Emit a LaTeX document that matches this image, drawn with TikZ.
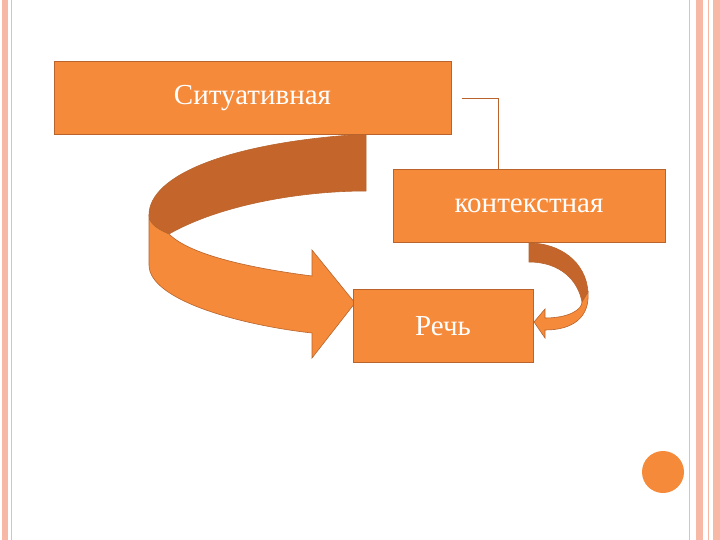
\documentclass[tikz,border=0pt]{standalone}
\usepackage{fontspec}
\setmainfont{Liberation Serif}
\definecolor{orf}{HTML}{F58A3A}
\definecolor{ord}{HTML}{C4662C}
\definecolor{orb}{HTML}{B8642C}
\definecolor{pinkb}{HTML}{F7B9A6}
\begin{document}
\begin{tikzpicture}[x=1pt,y=-1pt,
  box/.style={draw=orb,line width=1pt,fill=orf,text=white,inner sep=0pt,font=\fontsize{29}{30}\selectfont},
  rib/.style={draw=orb,line width=0.6pt}]
\useasboundingbox (0,0) rectangle (720,540);
\fill[white] (0,0) rectangle (720,540);
% borders
\fill[pinkb] (2,0) rectangle (8,540);
\draw[pinkb,line width=0.8pt] (11,0) -- (11,540);
\draw[pinkb,line width=0.8pt] (689,0) -- (689,540);
\fill[pinkb] (696,0) rectangle (703,540);
\draw[pinkb,line width=0.8pt] (708,0) -- (708,540);
\fill[pinkb] (713,0) rectangle (720,540);
% big arrow
\fill[ord,rib] (366,134) .. controls (230,142) and (149,175) .. (149,215) .. controls (149,225) and (160,230) .. (169,234) .. controls (220,205) and (300,191) .. (366,191) -- cycle;
\fill[orf,rib] (149,215) -- (149,265) .. controls (149,300) and (240,325) .. (312,333) -- (312,358) -- (355,303) -- (312,250) -- (312,276) .. controls (250,268) and (190,255) .. (169,234) .. controls (160,230) and (149,225) .. (149,215) -- cycle;
% small arrow
\fill[ord,rib] (529,243) -- (529,262) .. controls (560,262) and (578,280) .. (582,302) -- (588,292) .. controls (586,262) and (560,243) .. (529,243) -- cycle;
\fill[orf,rib] (588,292) .. controls (590,318) and (572,330) .. (545,330) -- (545,338) -- (534,322) -- (545,309) -- (545,318) .. controls (568,318) and (582,310) .. (582,302) -- cycle;
% boxes
\node[box,minimum width=397pt,minimum height=73pt] (sit) at (252.5,98) {Ситуативная};
\node[box,minimum width=272pt,minimum height=73pt] (kon) at (529,206) {\raisebox{-4pt}{контекстная}};
\node[box,minimum width=180pt,minimum height=73pt] (rech) at (443,326) {Речь};
\coordinate (c1) at ([xshift=10pt]sit.east);
\coordinate (c2) at (498,170);
\draw[orb,line width=0.7pt] (c1) -| (c2);
% circle
\node[circle,fill=orf,minimum size=42pt,inner sep=0pt] (dot) at (663,472) {};
\end{tikzpicture}
\end{document}
